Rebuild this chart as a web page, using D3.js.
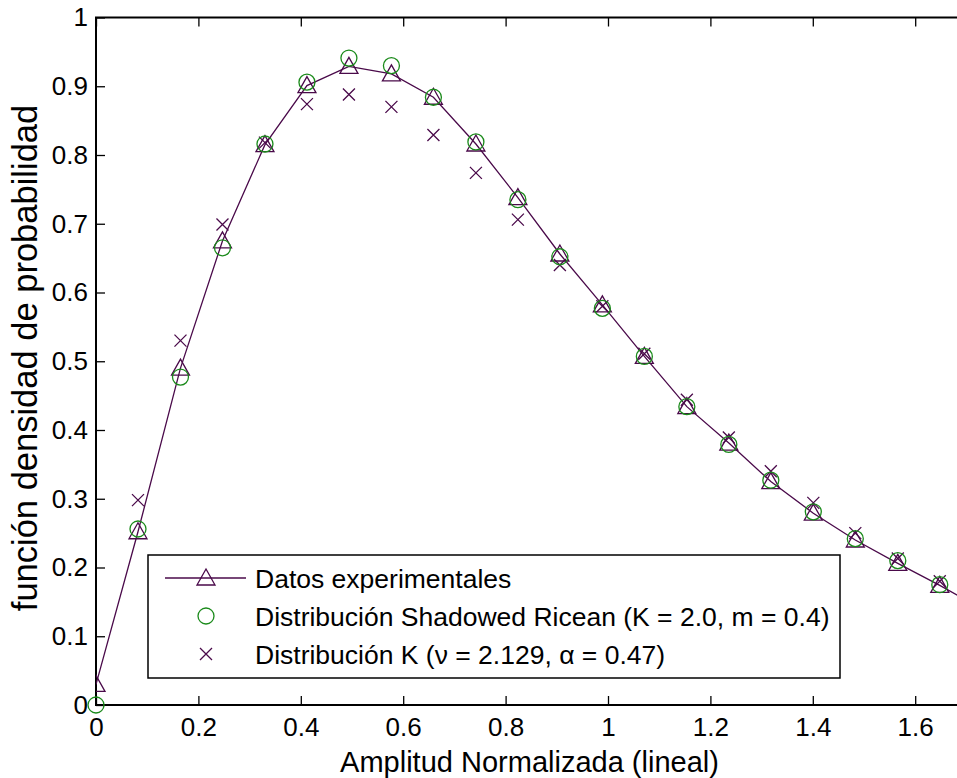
<!DOCTYPE html>
<html>
<head>
<meta charset="utf-8">
<script src="https://cdn.jsdelivr.net/npm/d3@7"></script>
<style>
  body { margin: 0; background: #fff; }
  svg text { font-family: "Liberation Sans", Arial, sans-serif; fill: #000; }
</style>
</head>
<body>
<svg id="chart" width="957" height="778"></svg>
<script>
// amplitud normalizada
var amplitud = [0, 0.082, 0.165, 0.247, 0.330, 0.412, 0.494, 0.577, 0.659, 0.742, 0.824,
  0.906, 0.989, 1.071, 1.154, 1.236, 1.318, 1.401, 1.483, 1.566, 1.648, 1.730];

// Datos experimentales (linea + triangulos)
var experimental = [0.030, 0.252, 0.490, 0.675, 0.815, 0.901, 0.929, 0.918, 0.884, 0.816, 0.738,
  0.656, 0.582, 0.507, 0.434, 0.381, 0.325, 0.279, 0.240, 0.206, 0.174, 0.140];

// Shadowed Ricean (circulos)
var shadowed = [0.000, 0.256, 0.477, 0.665, 0.816, 0.906, 0.941, 0.930, 0.884, 0.819, 0.735,
  0.652, 0.577, 0.507, 0.434, 0.379, 0.327, 0.281, 0.242, 0.210, 0.175];

// Distribucion K (cruces), empieza en el segundo punto
var distK = [null, 0.298, 0.530, 0.699, 0.818, 0.874, 0.888, 0.870, 0.829, 0.774, 0.706,
  0.640, 0.580, 0.511, 0.444, 0.389, 0.340, 0.294, 0.250, 0.213, 0.180];

var xTicks = [0, 0.2, 0.4, 0.6, 0.8, 1, 1.2, 1.4, 1.6];
var yTicks = [0, 0.1, 0.2, 0.3, 0.4, 0.5, 0.6, 0.7, 0.8, 0.9, 1];
var tickLabelsX = ["0", "0.2", "0.4", "0.6", "0.8", "1", "1.2", "1.4", "1.6"];
var tickLabelsY = ["0", "0.1", "0.2", "0.3", "0.4", "0.5", "0.6", "0.7", "0.8", "0.9", "1"];

var legendLabels = [
  "Datos experimentales",
  "Distribución Shadowed Ricean (K = 2.0, m = 0.4)",
  "Distribución K (ν = 2.129, α = 0.47)"
];

var purple = "#4a0a4a";
var green = "#1a8a1a";

var svg = d3.select("#chart");

var margin = { top: 17.5, left: 96, bottom: 73 };
var svgWidth = 957, svgHeight = 778;
var x = d3.scaleLinear().domain([0, 1.7]).range([margin.left, margin.left + 1.7 * 512]);
var y = d3.scaleLinear().domain([0, 1]).range([svgHeight - margin.bottom, margin.top]);

var x0 = x(0), x1 = x(1.7), y0 = y(0), y1 = y(1);

svg.append("defs").append("clipPath").attr("id", "plotClip")
  .append("rect")
  .attr("x", x0).attr("y", y1)
  .attr("width", x1 - x0).attr("height", y0 - y1);

// ejes con ticks hacia dentro
var fmtX = function (d, i) { return tickLabelsX[i]; };
var fmtY = function (d, i) { return tickLabelsY[i]; };

var gx = svg.append("g").attr("transform", "translate(0," + y0 + ")")
  .call(d3.axisBottom(x).tickValues(xTicks).tickFormat(fmtX).tickSize(-9).tickPadding(13));
var gxTop = svg.append("g").attr("transform", "translate(0," + y1 + ")")
  .call(d3.axisTop(x).tickValues(xTicks).tickFormat("").tickSize(-9));
var gy = svg.append("g").attr("transform", "translate(" + x0 + ",0)")
  .call(d3.axisLeft(y).tickValues(yTicks).tickFormat(fmtY).tickSize(-9).tickPadding(8));

[gx, gxTop, gy].forEach(function (g) {
  g.select(".domain").remove();
  g.selectAll(".tick line").attr("stroke", "#000").attr("stroke-width", 1.3);
  g.selectAll("text").style("font-size", "26px").attr("fill", "#000");
});

// marco
svg.append("rect")
  .attr("x", x0).attr("y", y1)
  .attr("width", x1 - x0).attr("height", y0 - y1)
  .attr("fill", "none").attr("stroke", "#000").attr("stroke-width", 2);

var plot = svg.append("g").attr("clip-path", "url(#plotClip)");

// linea experimental
var line = d3.line()
  .x(function (d, i) { return x(amplitud[i]); })
  .y(function (d) { return y(d); });

plot.append("path")
  .datum(experimental)
  .attr("d", line)
  .attr("fill", "none")
  .attr("stroke", purple)
  .attr("stroke-width", 1.3);

var triPath = "M0,-9 L9,7 L-9,7 Z";
var crossPath = "M-6,-6 L6,6 M-6,6 L6,-6";

plot.selectAll(".tri")
  .data(experimental)
  .enter().append("path")
  .attr("class", "tri")
  .attr("transform", function (d, i) { return "translate(" + x(amplitud[i]) + "," + y(d) + ")"; })
  .attr("d", triPath)
  .attr("fill", "none").attr("stroke", purple).attr("stroke-width", 1.3);

// circulos (sin recorte para que el de 0 se vea completo)
svg.append("g").selectAll("circle")
  .data(shadowed)
  .enter().append("circle")
  .attr("cx", function (d, i) { return x(amplitud[i]); })
  .attr("cy", function (d) { return y(d); })
  .attr("r", 8)
  .attr("fill", "none").attr("stroke", green).attr("stroke-width", 1.3);

var kPoints = [];
for (var i = 0; i < distK.length; i++) {
  if (distK[i] !== null) kPoints.push({ a: amplitud[i], v: distK[i] });
}
plot.selectAll(".cross")
  .data(kPoints)
  .enter().append("path")
  .attr("class", "cross")
  .attr("transform", function (d) { return "translate(" + x(d.a) + "," + y(d.v) + ")"; })
  .attr("d", crossPath)
  .attr("fill", "none").attr("stroke", purple).attr("stroke-width", 1.3);

// leyenda
var legend = svg.append("g").attr("class", "legend");
legend.append("rect")
  .attr("x", 148).attr("y", 555)
  .attr("width", 692).attr("height", 123)
  .attr("fill", "#fff").attr("stroke", "#000").attr("stroke-width", 1.5);

var rowY = [578, 616, 654];
legend.append("line")
  .attr("x1", 165).attr("x2", 246).attr("y1", rowY[0]).attr("y2", rowY[0])
  .attr("stroke", purple).attr("stroke-width", 1.3);
legend.append("path")
  .attr("transform", "translate(206," + rowY[0] + ")")
  .attr("d", triPath)
  .attr("fill", "none").attr("stroke", purple).attr("stroke-width", 1.3);
legend.append("circle")
  .attr("cx", 206).attr("cy", rowY[1]).attr("r", 8)
  .attr("fill", "none").attr("stroke", green).attr("stroke-width", 1.3);
legend.append("path")
  .attr("transform", "translate(206," + rowY[2] + ")")
  .attr("d", crossPath)
  .attr("fill", "none").attr("stroke", purple).attr("stroke-width", 1.3);

legend.selectAll("text.lbl")
  .data(legendLabels)
  .enter().append("text")
  .attr("class", "lbl")
  .attr("x", 255)
  .attr("y", function (d, i) { return rowY[i]; })
  .attr("dy", "0.36em")
  .style("font-size", "26.5px")
  .text(function (d) { return d; });

// titulos de ejes
svg.append("text")
  .attr("x", 529.5).attr("y", 771.5)
  .attr("text-anchor", "middle")
  .style("font-size", "29px")
  .text("Amplitud Normalizada (lineal)");

svg.append("text")
  .attr("transform", "translate(37,358) rotate(-90)")
  .attr("text-anchor", "middle")
  .style("font-size", "34.5px")
  .text("función densidad de probabilidad");
</script>
</body>
</html>
